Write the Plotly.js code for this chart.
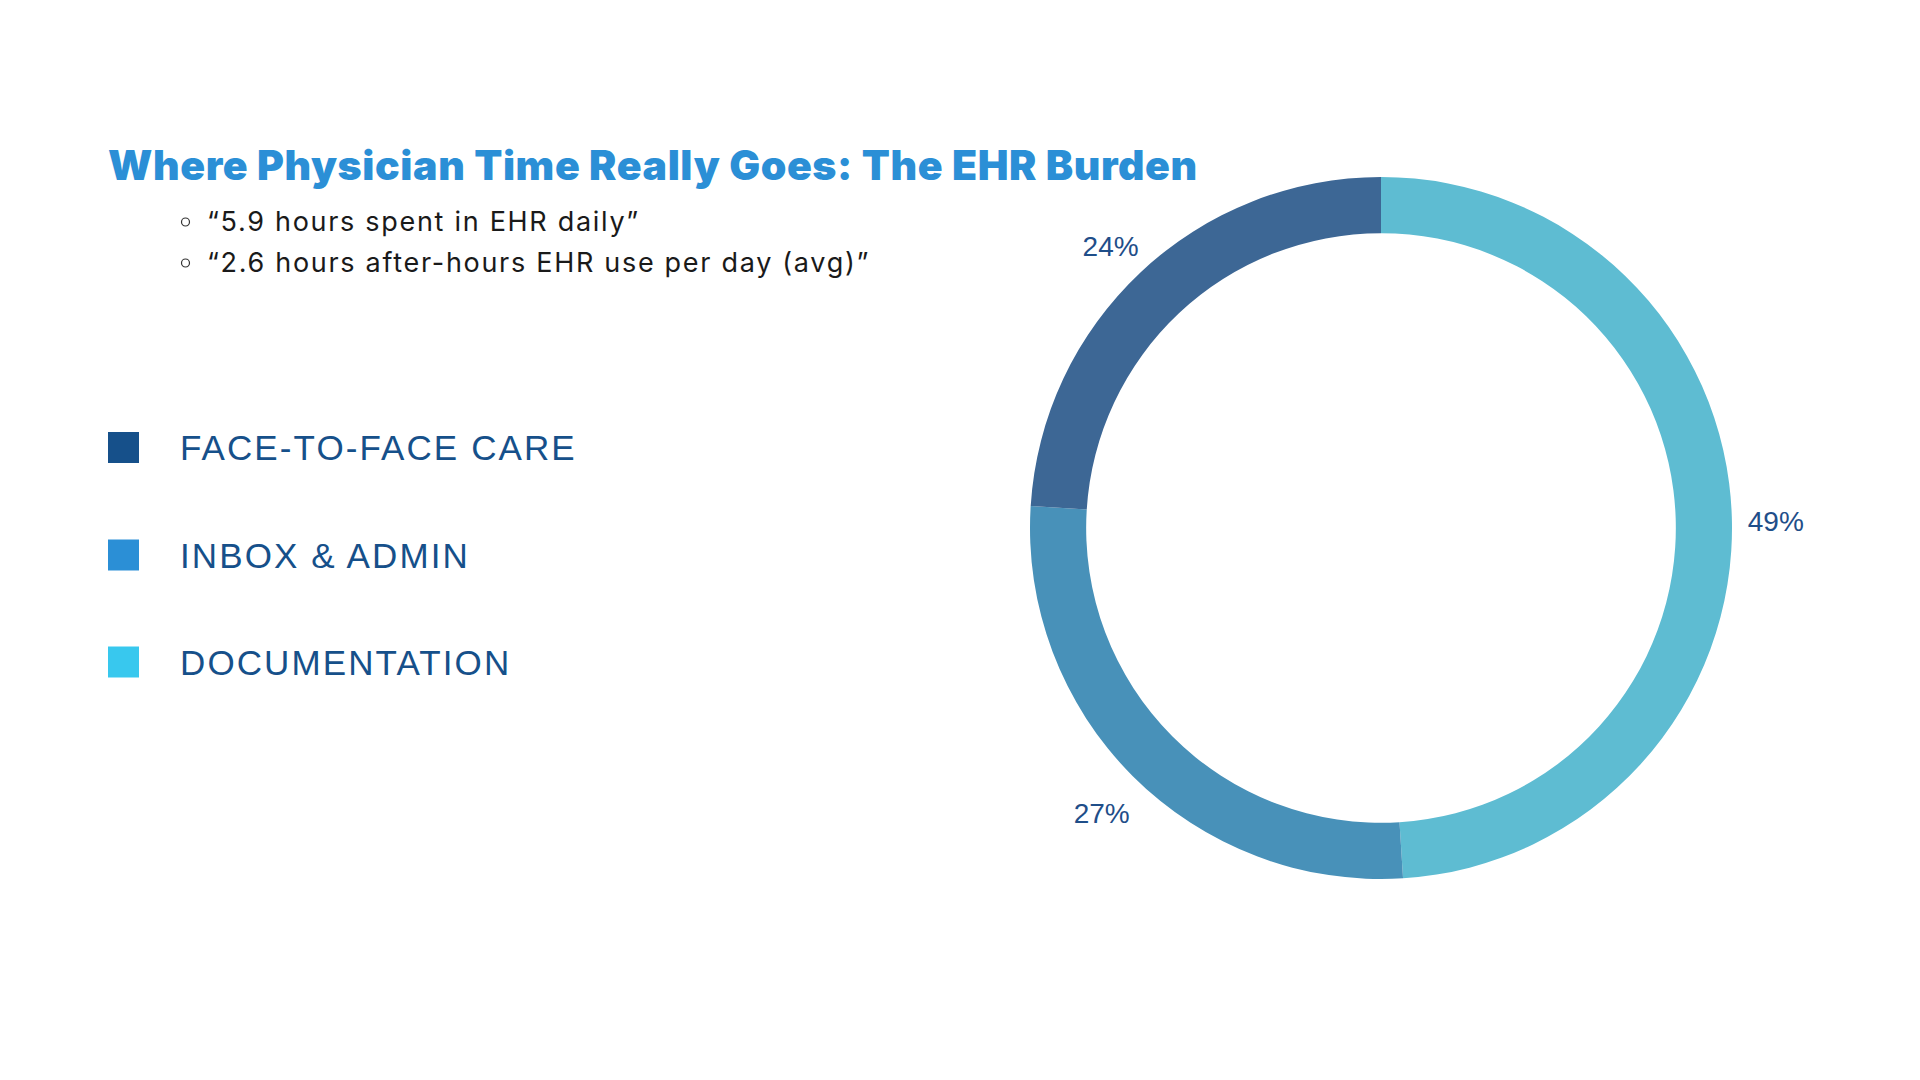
<!DOCTYPE html>
<html>
<head>
<meta charset="utf-8">
<script src="https://cdn.plot.ly/plotly-3.0.1.min.js"></script>
<style>html,body{margin:0;padding:0;background:#fff;}#chart{width:1920px;height:1080px;}</style>
</head>
<body>
<div id="chart"></div>
<script>
// Data
const sliceLabels = ["Documentation", "Inbox & Admin", "Face-to-Face Care"];
const sliceValues = [49, 27, 24];
const sliceColors = ["#5EBCD2", "#4891B9", "#3D6795"];

const legendLabels = ["FACE-TO-FACE CARE", "INBOX & ADMIN", "DOCUMENTATION"];
const legendColors = ["#16508A", "#2B8FD6", "#38C8EE"];

const titleText = "Where Physician Time Really Goes: The EHR Burden";
const bulletTexts = ["\u201C5.9 hours spent in EHR daily\u201D", "\u201C2.6 hours after-hours EHR use per day (avg)\u201D"];

const W = 1920, H = 1080;
const px = x => x / W;
const py = y => 1 - y / H;

const CX = 1381, CY = 528, R = 351;
const RL = 432, RL_IN = 358, LCY = CY + 6; // transparent label ring: labels centred at mid-radius ~395

const ring = {
  type: "pie",
  labels: sliceLabels,
  values: sliceValues,
  sort: false,
  direction: "clockwise",
  rotation: 0,
  hole: 0.84,
  marker: { colors: sliceColors, line: { width: 0 } },
  textinfo: "none",
  showlegend: false,
  domain: { x: [px(CX - R), px(CX + R)], y: [py(CY + R), py(CY - R)] },
  automargin: false
};

// transparent companion ring carrying the percentage labels just outside the visible ring
const labelRing = {
  type: "pie",
  labels: sliceLabels,
  values: sliceValues,
  sort: false,
  direction: "clockwise",
  rotation: 0,
  hole: RL_IN / RL,
  marker: { colors: sliceValues.map(() => "rgba(0,0,0,0)"), line: { width: 0 } },
  textinfo: "percent",
  textposition: "inside",
  insidetextorientation: "horizontal",
  insidetextfont: { family: "Liberation Sans, Arial, sans-serif", size: 28, color: "#1F4E89" },
  showlegend: false,
  domain: { x: [px(CX - RL), px(CX + RL)], y: [py(LCY + RL), py(LCY - RL)] },
  automargin: false
};

const annotations = [];
const shapes = [];
const bulletY = [222, 263];
bulletTexts.forEach((t, i) => {
  shapes.push({
    type: "circle", xref: "paper", yref: "paper",
    x0: px(181.5), x1: px(189.5), y0: py(bulletY[i] - 4), y1: py(bulletY[i] + 4),
    line: { color: "#333333", width: 1.2 }, fillcolor: "rgba(0,0,0,0)"
  });
  annotations.push({
    xref: "paper", yref: "paper", x: px(205), y: py(bulletY[i]), xanchor: "left", yanchor: "middle",
    text: '<span style="letter-spacing:1.7px">' + t + '</span>', showarrow: false,
    font: { family: "Inter, sans-serif", size: 27, color: "#1a1a1a" }
  });
});

const legY = [447.5, 555, 662];
legendLabels.forEach((t, i) => {
  shapes.push({
    type: "rect", xref: "paper", yref: "paper",
    x0: px(108), x1: px(139), y0: py(legY[i] - 15.5), y1: py(legY[i] + 15.5),
    fillcolor: legendColors[i], line: { width: 0 }
  });
  annotations.push({
    xref: "paper", yref: "paper", x: px(178), y: py(legY[i]), xanchor: "left", yanchor: "middle",
    text: '<span style="letter-spacing:2.1px">' + t + '</span>', showarrow: false,
    font: { family: "Liberation Sans, Arial, sans-serif", size: 35, color: "#16508A" }
  });
});

const layout = {
  width: W, height: H,
  margin: { l: 0, r: 0, t: 0, b: 0 },
  paper_bgcolor: "#ffffff",
  title: {
    text: '<span style="letter-spacing:0.6px">' + titleText + '</span>',
    x: px(108), xanchor: "left", xref: "paper",
    y: py(166), yanchor: "middle", yref: "paper",
    font: { family: "Inter, sans-serif", size: 41, color: "#2B8FD6", weight: 900 }
  },
  annotations: annotations,
  shapes: shapes
};

Plotly.newPlot("chart", [ring, labelRing], layout, { staticPlot: true, displayModeBar: false });
</script>
</body>
</html>
